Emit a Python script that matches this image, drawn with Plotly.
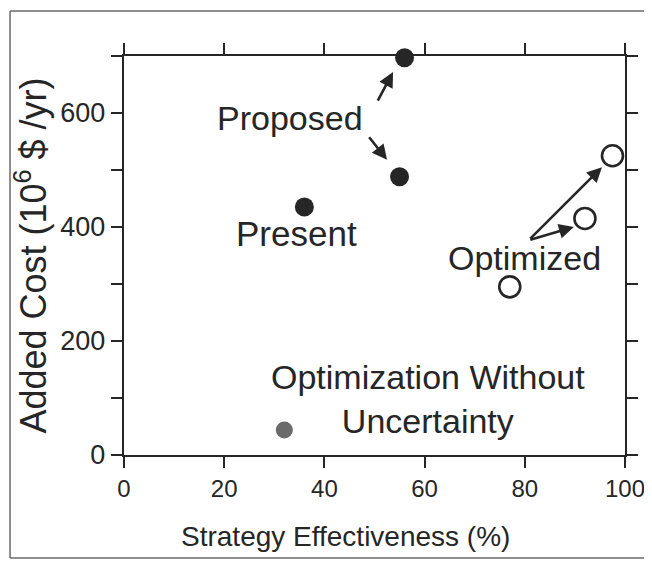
import plotly.graph_objects as go

# strategy effectiveness (%) and added cost (10^6 $/yr)
present_x = [36]
present_y = [435]
proposed_x = [56, 55]
proposed_y = [697, 488]
optimized_x = [97.5, 92, 77]
optimized_y = [525, 415, 295]
no_uncert_x = [32]
no_uncert_y = [44]

x_ticks = [0, 20, 40, 60, 80, 100]
y_ticks = [0, 100, 200, 300, 400, 500, 600, 700]
y_labels = ['0', '', '200', '', '400', '', '600', '']

FONT = 'Liberation Sans, Arial, sans-serif'
INK = '#262626'

fig = go.Figure()

fig.add_trace(go.Scatter(x=present_x + proposed_x,
                         y=present_y + proposed_y,
                         mode='markers',
                         marker=dict(symbol='circle', size=19, color=INK,
                                     line=dict(width=0)),
                         cliponaxis=False, hoverinfo='skip'))
fig.add_trace(go.Scatter(x=optimized_x, y=optimized_y,
                         mode='markers',
                         marker=dict(symbol='circle-open', size=21, color=INK,
                                     line=dict(width=2.6)),
                         cliponaxis=False, hoverinfo='skip'))
fig.add_trace(go.Scatter(x=no_uncert_x, y=no_uncert_y,
                         mode='markers',
                         marker=dict(symbol='circle', size=17, color='#6a6a6a',
                                     line=dict(width=0)),
                         cliponaxis=False, hoverinfo='skip'))

# text labels
labels = [
    ('Proposed', 33.1, 591, 34),
    ('Present', 34.5, 388, 35),
    ('Optimized', 80.0, 346, 34),
    ('Optimization Without<br>Uncertainty', 60.7, 99, 34),
]
for text, lx, ly, size in labels:
    fig.add_annotation(x=lx, y=ly, text=text, showarrow=False,
                       font=dict(family=FONT, size=size, color=INK),
                       xanchor='center', yanchor='middle')

# arrows: (head x, head y, tail x, tail y)
arrows = [
    (53.7, 672, 50.5, 619),
    (52.5, 518, 48.7, 560),
    (95.4, 505, 80.8, 377),
    (89.8, 400, 80.8, 377),
]
for hx, hy, tx, ty in arrows:
    fig.add_annotation(x=hx, y=hy, ax=tx, ay=ty, xref='x', yref='y',
                       axref='x', ayref='y', text='', showarrow=True,
                       arrowhead=2, arrowsize=1.15, arrowwidth=2.6,
                       arrowcolor=INK)

# x axis title sits a little left of centre in the original
fig.add_annotation(x=0.443, y=-0.2055, xref='paper', yref='paper',
                   text='Strategy Effectiveness (%)', showarrow=False,
                   xanchor='center', yanchor='middle',
                   font=dict(family=FONT, size=28, color=INK))

# scanned page frame (left, top, bottom edges)
frame = dict(xref='paper', yref='paper', type='line',
             line=dict(color='#6a6a6a', width=1.5))
fig.add_shape(x0=-0.2275, x1=-0.2275, y0=-0.258, y1=1.113, **frame)
fig.add_shape(x0=-0.2275, x1=1.2, y0=1.113, y1=1.113, **frame)
fig.add_shape(x0=-0.2275, x1=1.2, y0=-0.258, y1=-0.258, **frame)

fig.update_xaxes(range=[0, 100], tickvals=x_ticks,
                 ticks='outside', ticklen=11, tickwidth=2.2,
                 tickcolor=INK, showline=True, linewidth=2.4,
                 linecolor=INK, mirror='ticks', showgrid=False,
                 zeroline=False, ticklabeloverflow='allow',
                 tickfont=dict(family=FONT, size=24, color=INK))
fig.update_yaxes(range=[0, 700], tickvals=y_ticks, ticktext=y_labels,
                 ticks='outside', ticklen=11, tickwidth=2.2,
                 tickcolor=INK, showline=True, linewidth=2.4,
                 linecolor=INK, mirror='ticks', showgrid=False,
                 zeroline=False,
                 tickfont=dict(family=FONT, size=27, color=INK),
                 title=dict(text='Added Cost (10<sup>6</sup> $ /yr)',
                            standoff=8,
                            font=dict(family=FONT, size=36, color=INK)))

fig.update_layout(width=636, height=552,
                  margin=dict(l=116, r=19, t=48, b=105, autoexpand=False),
                  paper_bgcolor='white', plot_bgcolor='white',
                  showlegend=False)

fig.write_html('out.html')
